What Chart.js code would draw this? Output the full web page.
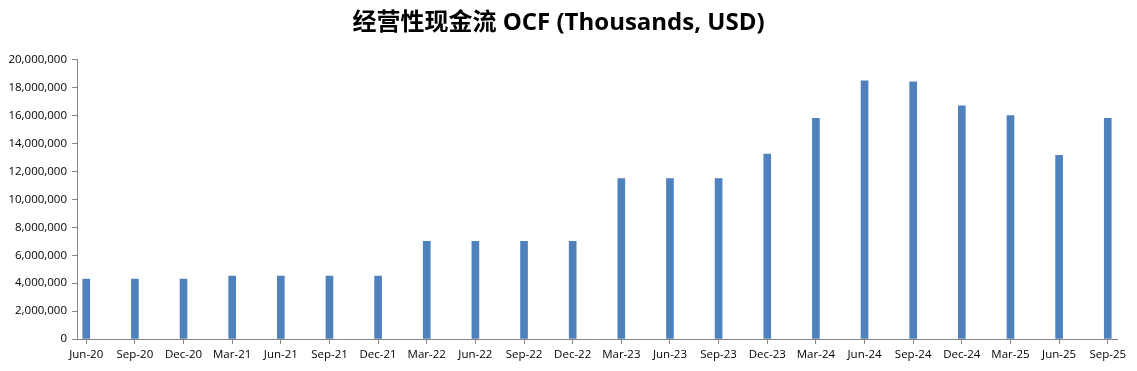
<!DOCTYPE html>
<html>
<head>
<meta charset="utf-8">
<script src="https://cdn.jsdelivr.net/npm/chart.js@4"></script>
<style>
  html, body { margin: 0; padding: 0; background: #fff; }
  #wrap { width: 1137px; height: 371px; }
</style>
</head>
<body>
<div id="wrap"><canvas id="mychart"></canvas></div>
<script>
// quarters and operating cash flow (thousands, USD)
var quarters = ["Jun-20", "Sep-20", "Dec-20", "Mar-21", "Jun-21", "Sep-21", "Dec-21",
  "Mar-22", "Jun-22", "Sep-22", "Dec-22", "Mar-23", "Jun-23", "Sep-23", "Dec-23",
  "Mar-24", "Jun-24", "Sep-24", "Dec-24", "Mar-25", "Jun-25", "Sep-25"];
var ocf = [4300000, 4300000, 4300000, 4500000, 4500000, 4500000, 4500000,
  7000000, 7000000, 7000000, 7000000, 11500000, 11500000, 11500000, 13250000,
  15800000, 18500000, 18420000, 16700000, 16000000, 13150000, 15800000];
var yTicks = [0, 2000000, 4000000, 6000000, 8000000, 10000000, 12000000,
  14000000, 16000000, 18000000, 20000000];

var biru = '#4f81bd';
var abu = '#868686';
var tulisan = '#000000';

var points = ocf.map(function (v, i) { return { x: i, y: v }; });

var ctx = document.getElementById("mychart").getContext('2d');
var myChart = new Chart(ctx, {
  type: 'bar',
  data: {
    datasets: [{
      label: 'OCF',
      data: points,
      backgroundColor: biru,
      borderWidth: 0,
      barThickness: 7
    }]
  },
  options: {
    responsive: true,
    maintainAspectRatio: false,
    animation: false,
    layout: { padding: { left: 0, right: 20, top: 0, bottom: 0 } },
    plugins: {
      legend: { display: false },
      tooltip: { enabled: false },
      title: {
        display: true,
        text: '经营性现金流 OCF (Thousands, USD)',
        color: tulisan,
        font: { family: "'Open Sans', 'Noto Sans CJK SC', sans-serif", size: 24, weight: 'bold' },
        padding: { top: 9, bottom: 22 }
      }
    },
    scales: {
      x: {
        type: 'linear',
        offset: false,
        min: -0.19,
        max: quarters.length - 1 + 0.19,
        afterBuildTicks: function (scale) {
          scale.ticks = quarters.map(function (q, i) { return { value: i }; });
        },
        afterFit: function (scale) { scale.height = 32; },
        ticks: {
          autoSkip: false,
          maxRotation: 0,
          color: tulisan,
          padding: 4,
          font: { family: "'Open Sans', sans-serif", size: 11.5 },
          callback: function (v) { return quarters[v]; }
        },
        grid: { display: true, drawOnChartArea: false, tickLength: 5, color: abu, offset: false },
        border: { display: true, color: abu, width: 1 }
      },
      y: {
        min: 0,
        max: 20000000,
        afterBuildTicks: function (scale) {
          scale.ticks = yTicks.map(function (v) { return { value: v }; });
        },
        afterFit: function (scale) { scale.width = 77; },
        ticks: {
          color: tulisan,
          padding: 5,
          font: { family: "'Open Sans', sans-serif", size: 11.5 },
          callback: function (v) { return v.toLocaleString('en-US'); }
        },
        grid: { display: true, drawOnChartArea: false, tickLength: 5, color: abu },
        border: { display: true, color: abu, width: 1 }
      }
    }
  }
});
</script>
</body>
</html>
